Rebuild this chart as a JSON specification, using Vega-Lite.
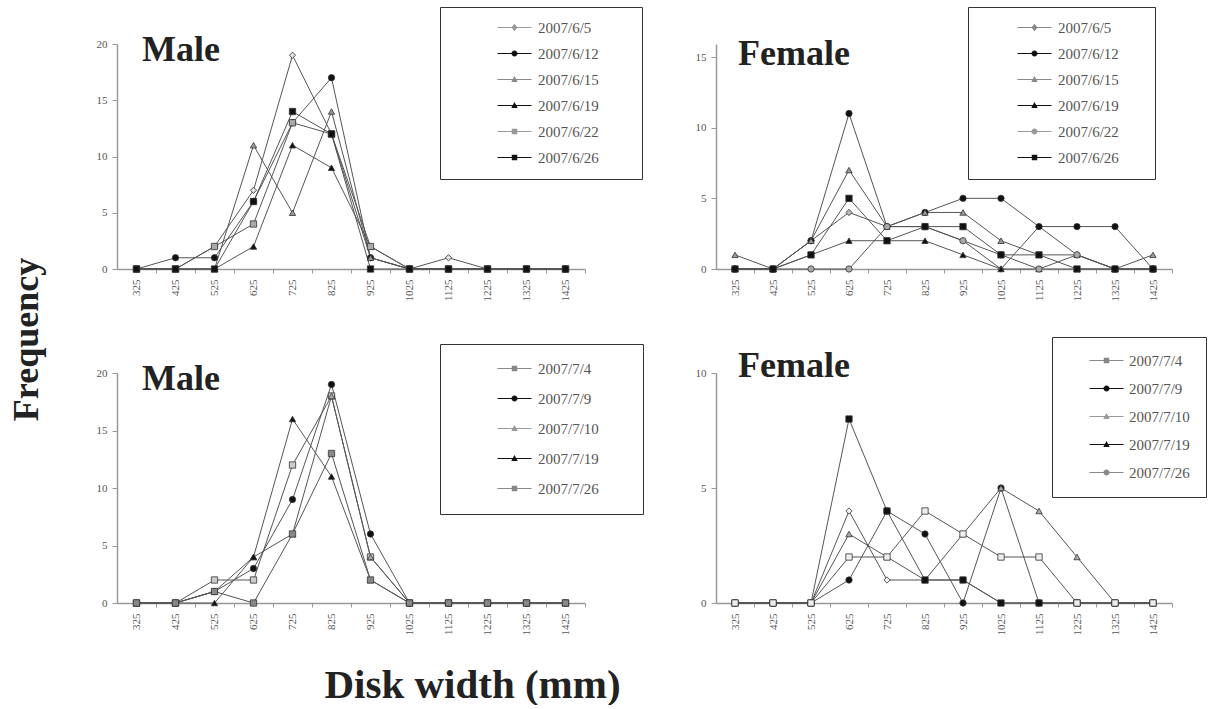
{
"$schema": "https://vega.github.io/schema/vega-lite/v6.json",
"background": "white",
"padding": {"left": 8, "top": 6, "right": 0, "bottom": 0},
"bounds": "flush",
"columns": 2,
"spacing": {"row": 104, "column": 131},
"config": {
  "view": {"stroke": null},
  "axis": {"labelFont": "Liberation Serif", "labelFontSize": 11, "labelColor": "#555", "domainColor": "#999", "domainWidth": 1.5, "tickColor": "#999", "tickSize": 4, "grid": false},
  "axisX": {"labelAngle": 270, "labelPadding": 6},
  "axisY": {"labelPadding": 5, "tickSize": 5},
  "legend": {"strokeColor": "#333", "fillColor": "white", "labelFont": "Liberation Serif", "labelFontSize": 15, "labelColor": "#555", "symbolStrokeWidth": 0, "symbolOpacity": 1, "symbolSize": 100, "titleOrient": "left", "titlePadding": 54, "titleFontSize": 12, "labelOffset": 16, "padding": 13},
  "title": {"font": "Liberation Serif", "fontSize": 36, "fontWeight": "bold", "color": "#222", "anchor": "start", "frame": "group", "baseline": "alphabetic"}
},
"datasets": {
"m6": [
{"w":325,"d":"2007/6/5","f":0},{"w":425,"d":"2007/6/5","f":0},{"w":525,"d":"2007/6/5","f":2},{"w":625,"d":"2007/6/5","f":7},{"w":725,"d":"2007/6/5","f":19},{"w":825,"d":"2007/6/5","f":12},{"w":925,"d":"2007/6/5","f":1},{"w":1025,"d":"2007/6/5","f":0},{"w":1125,"d":"2007/6/5","f":1},{"w":1225,"d":"2007/6/5","f":0},{"w":1325,"d":"2007/6/5","f":0},{"w":1425,"d":"2007/6/5","f":0},
{"w":325,"d":"2007/6/12","f":0},{"w":425,"d":"2007/6/12","f":1},{"w":525,"d":"2007/6/12","f":1},{"w":625,"d":"2007/6/12","f":6},{"w":725,"d":"2007/6/12","f":13},{"w":825,"d":"2007/6/12","f":17},{"w":925,"d":"2007/6/12","f":1},{"w":1025,"d":"2007/6/12","f":0},{"w":1125,"d":"2007/6/12","f":0},{"w":1225,"d":"2007/6/12","f":0},{"w":1325,"d":"2007/6/12","f":0},{"w":1425,"d":"2007/6/12","f":0},
{"w":325,"d":"2007/6/15","f":0},{"w":425,"d":"2007/6/15","f":0},{"w":525,"d":"2007/6/15","f":0},{"w":625,"d":"2007/6/15","f":11},{"w":725,"d":"2007/6/15","f":5},{"w":825,"d":"2007/6/15","f":14},{"w":925,"d":"2007/6/15","f":1},{"w":1025,"d":"2007/6/15","f":0},{"w":1125,"d":"2007/6/15","f":0},{"w":1225,"d":"2007/6/15","f":0},{"w":1325,"d":"2007/6/15","f":0},{"w":1425,"d":"2007/6/15","f":0},
{"w":325,"d":"2007/6/19","f":0},{"w":425,"d":"2007/6/19","f":0},{"w":525,"d":"2007/6/19","f":0},{"w":625,"d":"2007/6/19","f":2},{"w":725,"d":"2007/6/19","f":11},{"w":825,"d":"2007/6/19","f":9},{"w":925,"d":"2007/6/19","f":2},{"w":1025,"d":"2007/6/19","f":0},{"w":1125,"d":"2007/6/19","f":0},{"w":1225,"d":"2007/6/19","f":0},{"w":1325,"d":"2007/6/19","f":0},{"w":1425,"d":"2007/6/19","f":0},
{"w":325,"d":"2007/6/22","f":0},{"w":425,"d":"2007/6/22","f":0},{"w":525,"d":"2007/6/22","f":2},{"w":625,"d":"2007/6/22","f":4},{"w":725,"d":"2007/6/22","f":13},{"w":825,"d":"2007/6/22","f":12},{"w":925,"d":"2007/6/22","f":2},{"w":1025,"d":"2007/6/22","f":0},{"w":1125,"d":"2007/6/22","f":0},{"w":1225,"d":"2007/6/22","f":0},{"w":1325,"d":"2007/6/22","f":0},{"w":1425,"d":"2007/6/22","f":0},
{"w":325,"d":"2007/6/26","f":0},{"w":425,"d":"2007/6/26","f":0},{"w":525,"d":"2007/6/26","f":0},{"w":625,"d":"2007/6/26","f":6},{"w":725,"d":"2007/6/26","f":14},{"w":825,"d":"2007/6/26","f":12},{"w":925,"d":"2007/6/26","f":0},{"w":1025,"d":"2007/6/26","f":0},{"w":1125,"d":"2007/6/26","f":0},{"w":1225,"d":"2007/6/26","f":0},{"w":1325,"d":"2007/6/26","f":0},{"w":1425,"d":"2007/6/26","f":0}
],
"f6": [
{"w":325,"d":"2007/6/5","f":0},{"w":425,"d":"2007/6/5","f":0},{"w":525,"d":"2007/6/5","f":2},{"w":625,"d":"2007/6/5","f":4},{"w":725,"d":"2007/6/5","f":3},{"w":825,"d":"2007/6/5","f":3},{"w":925,"d":"2007/6/5","f":2},{"w":1025,"d":"2007/6/5","f":0},{"w":1125,"d":"2007/6/5","f":3},{"w":1225,"d":"2007/6/5","f":1},{"w":1325,"d":"2007/6/5","f":0},{"w":1425,"d":"2007/6/5","f":0},
{"w":325,"d":"2007/6/12","f":0},{"w":425,"d":"2007/6/12","f":0},{"w":525,"d":"2007/6/12","f":2},{"w":625,"d":"2007/6/12","f":11},{"w":725,"d":"2007/6/12","f":3},{"w":825,"d":"2007/6/12","f":4},{"w":925,"d":"2007/6/12","f":5},{"w":1025,"d":"2007/6/12","f":5},{"w":1125,"d":"2007/6/12","f":3},{"w":1225,"d":"2007/6/12","f":3},{"w":1325,"d":"2007/6/12","f":3},{"w":1425,"d":"2007/6/12","f":0},
{"w":325,"d":"2007/6/15","f":1},{"w":425,"d":"2007/6/15","f":0},{"w":525,"d":"2007/6/15","f":2},{"w":625,"d":"2007/6/15","f":7},{"w":725,"d":"2007/6/15","f":3},{"w":825,"d":"2007/6/15","f":4},{"w":925,"d":"2007/6/15","f":4},{"w":1025,"d":"2007/6/15","f":2},{"w":1125,"d":"2007/6/15","f":1},{"w":1225,"d":"2007/6/15","f":1},{"w":1325,"d":"2007/6/15","f":0},{"w":1425,"d":"2007/6/15","f":1},
{"w":325,"d":"2007/6/19","f":0},{"w":425,"d":"2007/6/19","f":0},{"w":525,"d":"2007/6/19","f":1},{"w":625,"d":"2007/6/19","f":2},{"w":725,"d":"2007/6/19","f":2},{"w":825,"d":"2007/6/19","f":2},{"w":925,"d":"2007/6/19","f":1},{"w":1025,"d":"2007/6/19","f":0},{"w":1125,"d":"2007/6/19","f":0},{"w":1225,"d":"2007/6/19","f":0},{"w":1325,"d":"2007/6/19","f":0},{"w":1425,"d":"2007/6/19","f":0},
{"w":325,"d":"2007/6/22","f":0},{"w":425,"d":"2007/6/22","f":0},{"w":525,"d":"2007/6/22","f":0},{"w":625,"d":"2007/6/22","f":0},{"w":725,"d":"2007/6/22","f":3},{"w":825,"d":"2007/6/22","f":3},{"w":925,"d":"2007/6/22","f":2},{"w":1025,"d":"2007/6/22","f":1},{"w":1125,"d":"2007/6/22","f":0},{"w":1225,"d":"2007/6/22","f":1},{"w":1325,"d":"2007/6/22","f":0},{"w":1425,"d":"2007/6/22","f":0},
{"w":325,"d":"2007/6/26","f":0},{"w":425,"d":"2007/6/26","f":0},{"w":525,"d":"2007/6/26","f":1},{"w":625,"d":"2007/6/26","f":5},{"w":725,"d":"2007/6/26","f":2},{"w":825,"d":"2007/6/26","f":3},{"w":925,"d":"2007/6/26","f":3},{"w":1025,"d":"2007/6/26","f":1},{"w":1125,"d":"2007/6/26","f":1},{"w":1225,"d":"2007/6/26","f":0},{"w":1325,"d":"2007/6/26","f":0},{"w":1425,"d":"2007/6/26","f":0}
],
"m7": [
{"w":325,"d":"2007/7/4","f":0},{"w":425,"d":"2007/7/4","f":0},{"w":525,"d":"2007/7/4","f":2},{"w":625,"d":"2007/7/4","f":2},{"w":725,"d":"2007/7/4","f":12},{"w":825,"d":"2007/7/4","f":18},{"w":925,"d":"2007/7/4","f":4},{"w":1025,"d":"2007/7/4","f":0},{"w":1125,"d":"2007/7/4","f":0},{"w":1225,"d":"2007/7/4","f":0},{"w":1325,"d":"2007/7/4","f":0},{"w":1425,"d":"2007/7/4","f":0},
{"w":325,"d":"2007/7/9","f":0},{"w":425,"d":"2007/7/9","f":0},{"w":525,"d":"2007/7/9","f":1},{"w":625,"d":"2007/7/9","f":3},{"w":725,"d":"2007/7/9","f":9},{"w":825,"d":"2007/7/9","f":19},{"w":925,"d":"2007/7/9","f":6},{"w":1025,"d":"2007/7/9","f":0},{"w":1125,"d":"2007/7/9","f":0},{"w":1225,"d":"2007/7/9","f":0},{"w":1325,"d":"2007/7/9","f":0},{"w":1425,"d":"2007/7/9","f":0},
{"w":325,"d":"2007/7/10","f":0},{"w":425,"d":"2007/7/10","f":0},{"w":525,"d":"2007/7/10","f":1},{"w":625,"d":"2007/7/10","f":4},{"w":725,"d":"2007/7/10","f":6},{"w":825,"d":"2007/7/10","f":18},{"w":925,"d":"2007/7/10","f":4},{"w":1025,"d":"2007/7/10","f":0},{"w":1125,"d":"2007/7/10","f":0},{"w":1225,"d":"2007/7/10","f":0},{"w":1325,"d":"2007/7/10","f":0},{"w":1425,"d":"2007/7/10","f":0},
{"w":325,"d":"2007/7/19","f":0},{"w":425,"d":"2007/7/19","f":0},{"w":525,"d":"2007/7/19","f":0},{"w":625,"d":"2007/7/19","f":4},{"w":725,"d":"2007/7/19","f":16},{"w":825,"d":"2007/7/19","f":11},{"w":925,"d":"2007/7/19","f":2},{"w":1025,"d":"2007/7/19","f":0},{"w":1125,"d":"2007/7/19","f":0},{"w":1225,"d":"2007/7/19","f":0},{"w":1325,"d":"2007/7/19","f":0},{"w":1425,"d":"2007/7/19","f":0},
{"w":325,"d":"2007/7/26","f":0},{"w":425,"d":"2007/7/26","f":0},{"w":525,"d":"2007/7/26","f":1},{"w":625,"d":"2007/7/26","f":0},{"w":725,"d":"2007/7/26","f":6},{"w":825,"d":"2007/7/26","f":13},{"w":925,"d":"2007/7/26","f":2},{"w":1025,"d":"2007/7/26","f":0},{"w":1125,"d":"2007/7/26","f":0},{"w":1225,"d":"2007/7/26","f":0},{"w":1325,"d":"2007/7/26","f":0},{"w":1425,"d":"2007/7/26","f":0}
],
"f7": [
{"w":325,"d":"2007/7/4","f":0},{"w":425,"d":"2007/7/4","f":0},{"w":525,"d":"2007/7/4","f":0},{"w":625,"d":"2007/7/4","f":4},{"w":725,"d":"2007/7/4","f":1},{"w":825,"d":"2007/7/4","f":1},{"w":925,"d":"2007/7/4","f":1},{"w":1025,"d":"2007/7/4","f":0},{"w":1125,"d":"2007/7/4","f":0},{"w":1225,"d":"2007/7/4","f":0},{"w":1325,"d":"2007/7/4","f":0},{"w":1425,"d":"2007/7/4","f":0},
{"w":325,"d":"2007/7/9","f":0},{"w":425,"d":"2007/7/9","f":0},{"w":525,"d":"2007/7/9","f":0},{"w":625,"d":"2007/7/9","f":1},{"w":725,"d":"2007/7/9","f":4},{"w":825,"d":"2007/7/9","f":3},{"w":925,"d":"2007/7/9","f":0},{"w":1025,"d":"2007/7/9","f":5},{"w":1125,"d":"2007/7/9","f":0},{"w":1225,"d":"2007/7/9","f":0},{"w":1325,"d":"2007/7/9","f":0},{"w":1425,"d":"2007/7/9","f":0},
{"w":325,"d":"2007/7/10","f":0},{"w":425,"d":"2007/7/10","f":0},{"w":525,"d":"2007/7/10","f":0},{"w":625,"d":"2007/7/10","f":3},{"w":725,"d":"2007/7/10","f":2},{"w":825,"d":"2007/7/10","f":1},{"w":925,"d":"2007/7/10","f":3},{"w":1025,"d":"2007/7/10","f":5},{"w":1125,"d":"2007/7/10","f":4},{"w":1225,"d":"2007/7/10","f":2},{"w":1325,"d":"2007/7/10","f":0},{"w":1425,"d":"2007/7/10","f":0},
{"w":325,"d":"2007/7/19","f":0},{"w":425,"d":"2007/7/19","f":0},{"w":525,"d":"2007/7/19","f":0},{"w":625,"d":"2007/7/19","f":8},{"w":725,"d":"2007/7/19","f":4},{"w":825,"d":"2007/7/19","f":1},{"w":925,"d":"2007/7/19","f":1},{"w":1025,"d":"2007/7/19","f":0},{"w":1125,"d":"2007/7/19","f":0},{"w":1225,"d":"2007/7/19","f":0},{"w":1325,"d":"2007/7/19","f":0},{"w":1425,"d":"2007/7/19","f":0},
{"w":325,"d":"2007/7/26","f":0},{"w":425,"d":"2007/7/26","f":0},{"w":525,"d":"2007/7/26","f":0},{"w":625,"d":"2007/7/26","f":2},{"w":725,"d":"2007/7/26","f":2},{"w":825,"d":"2007/7/26","f":4},{"w":925,"d":"2007/7/26","f":3},{"w":1025,"d":"2007/7/26","f":2},{"w":1125,"d":"2007/7/26","f":2},{"w":1225,"d":"2007/7/26","f":0},{"w":1325,"d":"2007/7/26","f":0},{"w":1425,"d":"2007/7/26","f":0}
]
},
"concat": [
{
  "width": 468, "height": 225,
  "data": {"name": "m6"},
  "title": {"text": "Male", "dx": 25, "offset": -62},
  "encoding": {
    "x": {"field": "w", "type": "ordinal", "scale": {"type": "point", "padding": 0.5}, "axis": {"tickOffset": 19.5, "labelOffset": -19.5, "title": null}},
    "y": {"field": "f", "type": "quantitative", "scale": {"domain": [0, 20], "nice": false}, "axis": {"values": [0, 5, 10, 15, 20], "title": "Frequency", "titleX": -80, "titleY": 295, "titleAngle": 270, "titleAlign": "center", "titleBaseline": "alphabetic", "titleFontSize": 36, "titleFontWeight": "bold", "titleFont": "Liberation Serif", "titleColor": "#222"}}
  },
  "layer": [
    {"mark": {"type": "line", "color": "#555", "strokeWidth": 1}, "encoding": {"detail": {"field": "d"}}},
    {"mark": {"type": "point", "filled": true, "size": 40, "stroke": "#333", "strokeWidth": 0.8, "opacity": 1},
     "encoding": {"shape": {"field": "d", "scale": {"domain": ["2007/6/5","2007/6/12","2007/6/15","2007/6/19","2007/6/22","2007/6/26"], "range": ["diamond","circle","triangle-up","triangle-up","square","square"]}, "legend": null},
                  "fill": {"field": "d", "scale": {"domain": ["2007/6/5","2007/6/12","2007/6/15","2007/6/19","2007/6/22","2007/6/26"], "range": ["#ddd","#111","#999","#111","#aaa","#111"]}, "legend": null}}},
    {"mark": {"type": "point", "filled": true, "size": 100, "opacity": 0},
     "encoding": {"shape": {"field": "d", "scale": {"domain": ["2007/6/5","2007/6/12","2007/6/15","2007/6/19","2007/6/22","2007/6/26"], "range": ["M-3.4,-0.1H3.4V0.1H-3.4ZM0,-0.75L0.6,0L0,0.75L-0.6,0Z","M-3.4,-0.1H3.4V0.1H-3.4ZM0.6,0A0.6,0.6,0,1,1,-0.6,0A0.6,0.6,0,1,1,0.6,0Z","M-3.4,-0.1H3.4V0.1H-3.4ZM0,-0.7L0.65,0.5L-0.65,0.5Z","M-3.4,-0.1H3.4V0.1H-3.4ZM0,-0.7L0.65,0.5L-0.65,0.5Z","M-3.4,-0.1H3.4V0.1H-3.4ZM-0.55,-0.55H0.55V0.55H-0.55Z","M-3.4,-0.1H3.4V0.1H-3.4ZM-0.55,-0.55H0.55V0.55H-0.55Z"]}, "legend": {"orient": "none", "legendX": 323, "legendY": -37, "title": " ", "rowPadding": 10, "labelExpr": "datum.label + '        \u200b'"}},
                  "fill": {"field": "d", "scale": {"domain": ["2007/6/5","2007/6/12","2007/6/15","2007/6/19","2007/6/22","2007/6/26"], "range": ["#999","#111","#888","#111","#999","#111"]}, "legend": {"orient": "none", "legendX": 323, "legendY": -37, "title": " ", "rowPadding": 10, "labelExpr": "datum.label + '        \u200b'"}}}}
  ],
  "resolve": {"scale": {"shape": "independent", "fill": "independent"}}
},
{
  "width": 456, "height": 225,
  "data": {"name": "f6"},
  "title": {"text": "Female", "dx": 22, "offset": -66},
  "encoding": {
    "x": {"field": "w", "type": "ordinal", "scale": {"type": "point", "padding": 0.5}, "axis": {"tickOffset": 19, "labelOffset": -19, "title": null}},
    "y": {"field": "f", "type": "quantitative", "scale": {"domain": [0, 15.92], "nice": false}, "axis": {"values": [0, 5, 10, 15], "title": null}}
  },
  "layer": [
    {"mark": {"type": "line", "color": "#555", "strokeWidth": 1}, "encoding": {"detail": {"field": "d"}}},
    {"mark": {"type": "point", "filled": true, "size": 40, "stroke": "#333", "strokeWidth": 0.8, "opacity": 1},
     "encoding": {"shape": {"field": "d", "scale": {"domain": ["2007/6/5","2007/6/12","2007/6/15","2007/6/19","2007/6/22","2007/6/26"], "range": ["diamond","circle","triangle-up","triangle-up","circle","square"]}, "legend": null},
                  "fill": {"field": "d", "scale": {"domain": ["2007/6/5","2007/6/12","2007/6/15","2007/6/19","2007/6/22","2007/6/26"], "range": ["#bbb","#111","#999","#111","#aaa","#111"]}, "legend": null}}},
    {"mark": {"type": "point", "filled": true, "size": 100, "opacity": 0},
     "encoding": {"shape": {"field": "d", "scale": {"domain": ["2007/6/5","2007/6/12","2007/6/15","2007/6/19","2007/6/22","2007/6/26"], "range": ["M-3.4,-0.1H3.4V0.1H-3.4ZM0,-0.75L0.6,0L0,0.75L-0.6,0Z","M-3.4,-0.1H3.4V0.1H-3.4ZM0.6,0A0.6,0.6,0,1,1,-0.6,0A0.6,0.6,0,1,1,0.6,0Z","M-3.4,-0.1H3.4V0.1H-3.4ZM0,-0.7L0.65,0.5L-0.65,0.5Z","M-3.4,-0.1H3.4V0.1H-3.4ZM0,-0.7L0.65,0.5L-0.65,0.5Z","M-3.4,-0.1H3.4V0.1H-3.4ZM0.6,0A0.6,0.6,0,1,1,-0.6,0A0.6,0.6,0,1,1,0.6,0Z","M-3.4,-0.1H3.4V0.1H-3.4ZM-0.55,-0.55H0.55V0.55H-0.55Z"]}, "legend": {"orient": "none", "legendX": 252, "legendY": -37, "title": " ", "rowPadding": 10, "titlePadding": 46, "labelExpr": "datum.label + '      \u200b'"}},
                  "fill": {"field": "d", "scale": {"domain": ["2007/6/5","2007/6/12","2007/6/15","2007/6/19","2007/6/22","2007/6/26"], "range": ["#888","#111","#888","#111","#999","#111"]}, "legend": {"orient": "none", "legendX": 252, "legendY": -37, "title": " ", "rowPadding": 10, "titlePadding": 46, "labelExpr": "datum.label + '      \u200b'"}}}}
  ],
  "resolve": {"scale": {"shape": "independent", "fill": "independent"}}
},
{
  "width": 468, "height": 230,
  "data": {"name": "m7"},
  "title": {"text": "Male", "dx": 25, "offset": -54},
  "encoding": {
    "x": {"field": "w", "type": "ordinal", "scale": {"type": "point", "padding": 0.5}, "axis": {"tickOffset": 19.5, "labelOffset": -19.5, "title": "Disk width (mm)", "titleX": 355, "titleY": 94, "titleAngle": 0, "titleAlign": "center", "titleBaseline": "alphabetic", "titleFontSize": 41, "titleFontWeight": "bold", "titleFont": "Liberation Serif", "titleColor": "#222"}},
    "y": {"field": "f", "type": "quantitative", "scale": {"domain": [0, 20], "nice": false}, "axis": {"values": [0, 5, 10, 15, 20], "title": null}}
  },
  "layer": [
    {"mark": {"type": "line", "color": "#555", "strokeWidth": 1}, "encoding": {"detail": {"field": "d"}}},
    {"mark": {"type": "point", "filled": true, "size": 40, "stroke": "#333", "strokeWidth": 0.8, "opacity": 1},
     "encoding": {"shape": {"field": "d", "scale": {"domain": ["2007/7/4","2007/7/9","2007/7/10","2007/7/19","2007/7/26"], "range": ["square","circle","triangle-up","triangle-up","square"]}, "legend": null},
                  "fill": {"field": "d", "scale": {"domain": ["2007/7/4","2007/7/9","2007/7/10","2007/7/19","2007/7/26"], "range": ["#ccc","#111","#aaa","#111","#888"]}, "legend": null}}},
    {"mark": {"type": "point", "filled": true, "size": 100, "opacity": 0},
     "encoding": {"shape": {"field": "d", "scale": {"domain": ["2007/7/4","2007/7/9","2007/7/10","2007/7/19","2007/7/26"], "range": ["M-3.4,-0.1H3.4V0.1H-3.4ZM-0.55,-0.55H0.55V0.55H-0.55Z","M-3.4,-0.1H3.4V0.1H-3.4ZM0.6,0A0.6,0.6,0,1,1,-0.6,0A0.6,0.6,0,1,1,0.6,0Z","M-3.4,-0.1H3.4V0.1H-3.4ZM0,-0.7L0.65,0.5L-0.65,0.5Z","M-3.4,-0.1H3.4V0.1H-3.4ZM0,-0.7L0.65,0.5L-0.65,0.5Z","M-3.4,-0.1H3.4V0.1H-3.4ZM-0.55,-0.55H0.55V0.55H-0.55Z"]}, "legend": {"orient": "none", "legendX": 323, "legendY": -29, "title": " ", "rowPadding": 14, "padding": 17, "titlePadding": 50, "labelExpr": "datum.label + '       \u200b'"}},
                  "fill": {"field": "d", "scale": {"domain": ["2007/7/4","2007/7/9","2007/7/10","2007/7/19","2007/7/26"], "range": ["#888","#111","#999","#111","#888"]}, "legend": {"orient": "none", "legendX": 323, "legendY": -29, "title": " ", "rowPadding": 14, "padding": 17, "titlePadding": 50, "labelExpr": "datum.label + '       \u200b'"}}}}
  ],
  "resolve": {"scale": {"shape": "independent", "fill": "independent"}}
},
{
  "width": 456, "height": 230,
  "data": {"name": "f7"},
  "title": {"text": "Female", "dx": 22, "offset": -48},
  "encoding": {
    "x": {"field": "w", "type": "ordinal", "scale": {"type": "point", "padding": 0.5}, "axis": {"tickOffset": 19, "labelOffset": -19, "title": null}},
    "y": {"field": "f", "type": "quantitative", "scale": {"domain": [0, 10], "nice": false}, "axis": {"values": [0, 5, 10], "title": null}}
  },
  "layer": [
    {"mark": {"type": "line", "color": "#555", "strokeWidth": 1}, "encoding": {"detail": {"field": "d"}}},
    {"mark": {"type": "point", "filled": true, "size": 40, "stroke": "#333", "strokeWidth": 0.8, "opacity": 1},
     "encoding": {"shape": {"field": "d", "scale": {"domain": ["2007/7/4","2007/7/9","2007/7/10","2007/7/19","2007/7/26"], "range": ["diamond","circle","triangle-up","square","square"]}, "legend": null},
                  "fill": {"field": "d", "scale": {"domain": ["2007/7/4","2007/7/9","2007/7/10","2007/7/19","2007/7/26"], "range": ["#eee","#111","#aaa","#111","#eee"]}, "legend": null}}},
    {"mark": {"type": "point", "filled": true, "size": 100, "opacity": 0},
     "encoding": {"shape": {"field": "d", "scale": {"domain": ["2007/7/4","2007/7/9","2007/7/10","2007/7/19","2007/7/26"], "range": ["M-3.4,-0.1H3.4V0.1H-3.4ZM-0.55,-0.55H0.55V0.55H-0.55Z","M-3.4,-0.1H3.4V0.1H-3.4ZM0.6,0A0.6,0.6,0,1,1,-0.6,0A0.6,0.6,0,1,1,0.6,0Z","M-3.4,-0.1H3.4V0.1H-3.4ZM0,-0.7L0.65,0.5L-0.65,0.5Z","M-3.4,-0.1H3.4V0.1H-3.4ZM0,-0.7L0.65,0.5L-0.65,0.5Z","M-3.4,-0.1H3.4V0.1H-3.4ZM0.6,0A0.6,0.6,0,1,1,-0.6,0A0.6,0.6,0,1,1,0.6,0Z"]}, "legend": {"orient": "none", "legendX": 336, "legendY": -36, "title": " ", "rowPadding": 12, "padding": 16, "titlePadding": 31, "labelOffset": 15}},
                  "fill": {"field": "d", "scale": {"domain": ["2007/7/4","2007/7/9","2007/7/10","2007/7/19","2007/7/26"], "range": ["#888","#111","#999","#111","#888"]}, "legend": {"orient": "none", "legendX": 336, "legendY": -36, "title": " ", "rowPadding": 12, "padding": 16, "titlePadding": 31, "labelOffset": 15}}}}
  ],
  "resolve": {"scale": {"shape": "independent", "fill": "independent"}}
}
]
}
